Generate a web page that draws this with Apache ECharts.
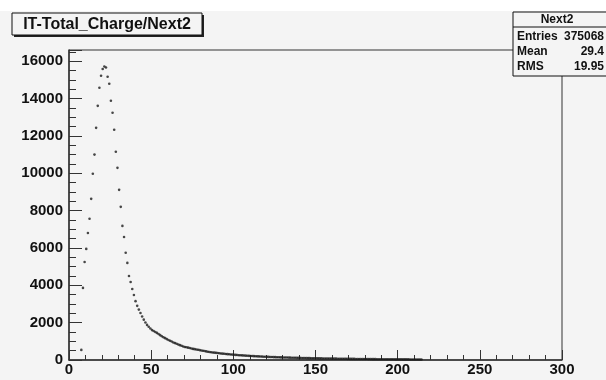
<!DOCTYPE html>
<html>
<head>
<meta charset="utf-8">
<script src="https://cdn.jsdelivr.net/npm/echarts@6/dist/echarts.min.js"></script>
<style>
  html, body { margin: 0; padding: 0; background: #f4f4f4; }
  #chart { width: 606px; height: 380px; }
</style>
</head>
<body>
<div id="chart"></div>
<script>
// histogram IT-Total_Charge/Next2, 1 unit bins, first filled bin starts at 7
const firstBin = 7;
const counts = [
  540, 3860, 5250, 5950, 6800, 7560, 8630, 9970, 11000, 12430,
  13610, 14580, 15220, 15580, 15720, 15660, 15170, 14790, 13880, 13240,
  12330, 11150, 10290, 9110, 8200, 7180, 6590, 5740, 5200, 4500,
  4180, 3800, 3480, 3150, 2900, 2700, 2520, 2330, 2160, 2010,
  1880, 1780, 1690, 1600, 1550, 1500, 1450, 1390, 1330, 1270,
  1220, 1170, 1120, 1070, 1030, 990, 940, 905, 870, 830,
  795, 760, 725, 700, 680, 660, 640, 615, 595, 580,
  560, 545, 530, 510, 495, 480, 460, 440, 430, 418,
  405, 393, 382, 371, 360, 350, 340, 331, 322, 313,
  305, 297, 289, 281, 272, 266, 258, 252, 245, 240,
  233, 228, 221, 216, 211, 205, 201, 196, 192, 186,
  183, 178, 175, 170, 167, 163, 160, 155, 153, 149,
  146, 143, 139, 137, 134, 131, 128, 126, 123, 121,
  118, 116, 113, 112, 109, 107, 104, 103, 100, 98,
  97, 94, 93, 90, 89, 87, 86, 83, 82, 80,
  79, 77, 76, 74, 73, 71, 70, 69, 67, 66,
  65, 64, 62, 61, 60, 59, 58, 57, 55, 55,
  54, 52, 52, 50, 50, 48, 48, 46, 46, 45,
  44, 43, 42, 42, 41, 40, 39, 39, 38, 37,
  37, 36, 35, 35, 34, 33, 33, 32, 32, 31,
  30, 30, 29, 29, 28, 28, 27, 27
];
const xTicks = [0, 50, 100, 150, 200, 250, 300];
const yTicks = [0, 2000, 4000, 6000, 8000, 10000, 12000, 14000, 16000];

const histName = "Next2";
const statLabels = ["Entries", "Mean", "RMS"];
const statValues = ["375068", "29.4", "19.95"];

const points = counts.map(function (v, i) {
  return [firstBin + i + 0.5, v];
});

const labelFont = {
  fontFamily: "Liberation Sans",
  fontWeight: "bold",
  fontSize: 15,
  color: "#111"
};

const statsText = [];
statLabels.forEach(function (lab, i) {
  const y = 37 + i * 15;
  statsText.push({
    type: "text", x: 517, y: y, z: 10,
    style: { text: lab, font: "bold 12px Liberation Sans", fill: "#111", align: "left", verticalAlign: "middle" }
  });
  statsText.push({
    type: "text", x: 604, y: y, z: 10,
    style: { text: statValues[i], font: "bold 12px Liberation Sans", fill: "#111", align: "right", verticalAlign: "middle" }
  });
});

const option = {
  backgroundColor: "#f4f4f4",
  animation: false,
  grid: {
    left: 69, right: 44, top: 50, bottom: 20,
    show: true,
    borderColor: "#333",
    borderWidth: 1,
    backgroundColor: "#f4f4f4"
  },
  xAxis: {
    type: "value",
    min: 0,
    max: 300,
    interval: 50,
    axisLine: { lineStyle: { color: "#333", width: 1.5 } },
    axisTick: { inside: true, length: 10, lineStyle: { color: "#333" } },
    minorTick: { show: true, splitNumber: 5, length: 5, lineStyle: { color: "#333" } },
    splitLine: { show: false },
    axisLabel: Object.assign({ margin: 2, customValues: xTicks }, labelFont)
  },
  yAxis: {
    type: "value",
    min: 0,
    max: 16600,
    interval: 2000,
    axisLine: { show: true, lineStyle: { color: "#333", width: 1.5 } },
    axisTick: { inside: true, length: 13, lineStyle: { color: "#333" } },
    minorTick: { show: true, splitNumber: 4, length: 7, lineStyle: { color: "#333" } },
    splitLine: { show: false },
    axisLabel: Object.assign({
      margin: 6,
      formatter: function (v) { return yTicks.indexOf(v) >= 0 ? String(v) : ""; }
    }, labelFont)
  },
  series: [
    {
      name: histName,
      type: "scatter",
      symbol: "circle",
      symbolSize: 2.6,
      itemStyle: { color: "#1a1a1a" },
      data: points
    }
  ],
  graphic: [
    { type: "rect", x: 0, y: 0, z: 5, shape: { width: 606, height: 11 }, style: { fill: "#ffffff" } },
    // title box with shadow
    { type: "rect", x: 14, y: 15, z: 9, shape: { width: 190, height: 22 }, style: { fill: "#222" } },
    { type: "rect", x: 12, y: 13, z: 10, shape: { width: 190, height: 22 }, style: { fill: "#f4f4f4", stroke: "#111", lineWidth: 1 } },
    { type: "text", x: 107, y: 25, z: 11,
      style: { text: "IT-Total_Charge/Next2", font: "bold 16px Liberation Sans", fill: "#111", align: "center", verticalAlign: "middle" } },
    // stats box
    { type: "rect", x: 513, y: 12, z: 9, shape: { width: 100, height: 64 }, style: { fill: "#f4f4f4", stroke: "#111", lineWidth: 1 } },
    { type: "line", z: 10, shape: { x1: 513, y1: 27, x2: 606, y2: 27 }, style: { stroke: "#111", lineWidth: 1 } },
    { type: "text", x: 557, y: 20, z: 10,
      style: { text: histName, font: "bold 12px Liberation Sans", fill: "#111", align: "center", verticalAlign: "middle" } }
  ].concat(statsText)
};

const chart = echarts.init(document.getElementById("chart"));
chart.setOption(option);
</script>
</body>
</html>
